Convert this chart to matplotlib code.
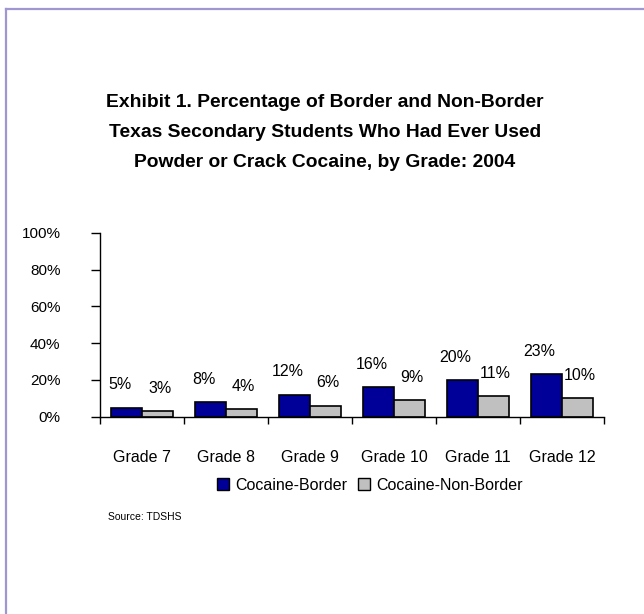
import numpy as np
import matplotlib.pyplot as plt
from matplotlib.lines import Line2D
from matplotlib.patches import Patch

plt.rcParams['font.family'] = ['Liberation Sans', 'DejaVu Sans']

grades = ['Grade 7', 'Grade 8', 'Grade 9', 'Grade 10', 'Grade 11', 'Grade 12']
border = [5, 8, 12, 16, 20, 23]
non_border = [3, 4, 6, 9, 11, 10]
title_lines = ['Exhibit 1. Percentage of Border and Non-Border',
               'Texas Secondary Students Who Had Ever Used',
               'Powder or Crack Cocaine, by Grade: 2004']

W, H = 644, 614
fig = plt.figure(figsize=(W / 100, H / 100), dpi=100)

# frame lines top and left
fig.add_artist(Line2D([6 / W, 6 / W], [0, 1 - 8.5 / H], transform=fig.transFigure,
                      color='#a096d2', lw=1.6))
fig.add_artist(Line2D([6 / W, 1], [1 - 8.5 / H, 1 - 8.5 / H], transform=fig.transFigure,
                      color='#a096d2', lw=1.6))

for i, line in enumerate(title_lines):
    fig.text(325 / W, 1 - (102.7 + 30 * i) / H, line, ha='center', va='center',
             fontsize=13.9, fontweight='bold')

ax = fig.add_axes([100 / W, (H - 416.7) / H, 504 / W, 183.7 / H])
x = np.arange(len(grades))
bw = 0.37
ax.bar(x - bw / 2, border, bw, color='#000099', edgecolor='black', linewidth=1.2)
ax.bar(x + bw / 2, non_border, bw, color='#c0c0c0', edgecolor='black', linewidth=1.2)

for xi, v in zip(x, border):
    ax.annotate(f'{v}%', (xi - bw / 2, v), xytext=(-5, 16.5), textcoords='offset points',
                ha='center', va='center', fontsize=11.5)
for xi, v in zip(x, non_border):
    ax.annotate(f'{v}%', (xi + bw / 2, v), xytext=(1.5, 16.5), textcoords='offset points',
                ha='center', va='center', fontsize=11.5)

ax.set_xlim(-0.5, len(grades) - 0.5)
ax.set_ylim(0, 100)
ax.set_yticks(range(0, 101, 20))
ax.set_yticklabels([f'{t}%' for t in range(0, 101, 20)], fontsize=11)
ax.tick_params(axis='y', direction='out', length=6.5, width=1, pad=22)

ax.set_xticks(np.arange(-0.5, len(grades), 1))
ax.set_xticklabels([])
ax.set_xticks(x, minor=True)
ax.set_xticklabels(grades, minor=True, fontsize=11.5)
ax.tick_params(axis='x', which='major', direction='out', length=5, width=1)
ax.tick_params(axis='x', which='minor', length=0, pad=24)

for s in ['top', 'right']:
    ax.spines[s].set_visible(False)
for s in ['left', 'bottom']:
    ax.spines[s].set_linewidth(1)

handles = [Patch(facecolor='#000099', edgecolor='black', label='Cocaine-Border'),
           Patch(facecolor='#c0c0c0', edgecolor='black', label='Cocaine-Non-Border')]
fig.legend(handles=handles, loc='center', bbox_to_anchor=(370 / W, 1 - 485 / H), ncol=2,
           frameon=False, fontsize=11.5, handlelength=0.75, handleheight=0.75,
           handletextpad=0.4, columnspacing=0.7, borderpad=0)

fig.text(108 / W, 1 - 517 / H, 'Source: TDSHS', ha='left', va='center', fontsize=7.5)

fig.savefig('out.png', dpi=100)
